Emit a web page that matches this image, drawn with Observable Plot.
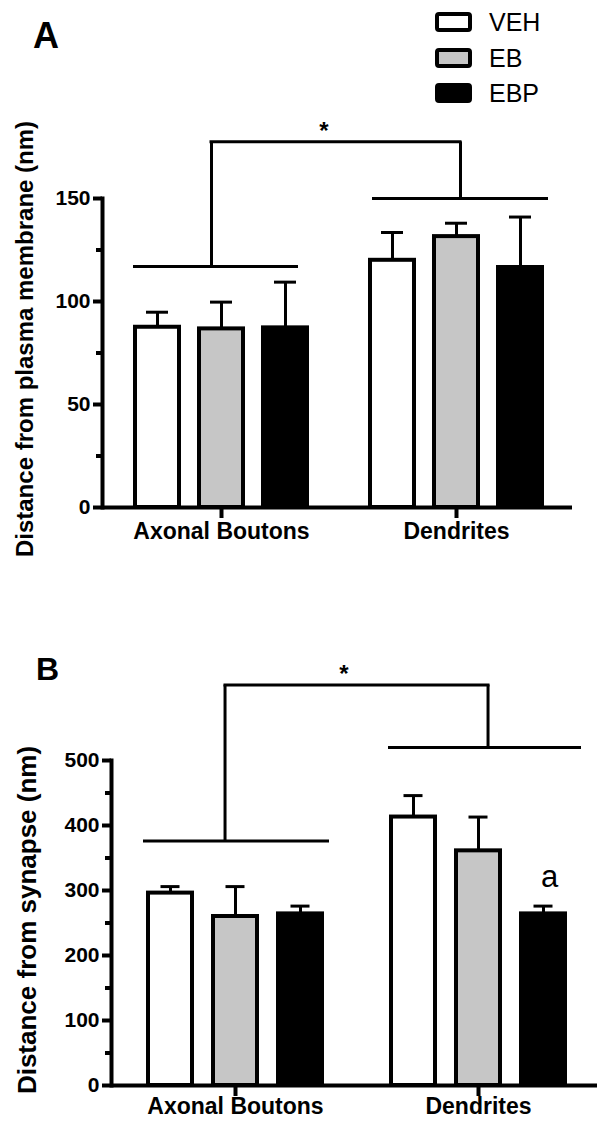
<!DOCTYPE html>
<html><head><meta charset="utf-8">
<script src="https://cdn.jsdelivr.net/npm/d3@7"></script>
<script src="https://cdn.jsdelivr.net/npm/@observablehq/plot@0.6"></script>
<style>
body{margin:0;background:#fff;}
#fig{position:relative;width:603px;height:1122px;font-family:"Liberation Sans",Arial,sans-serif;color:#000;overflow:hidden;background:#fff}
.abs{position:absolute}
.panel-letter{position:absolute;font-weight:bold;line-height:1}
.leg-row{position:absolute;height:20px;display:flex;align-items:center}
.leg-box{width:37px;height:20px;box-sizing:border-box;border:4px solid #000;border-radius:4px}
.leg-text{margin-left:17px;font-size:25px;line-height:1}
</style></head><body><div id="fig"></div>
<script>
// ---------- data ----------
const treatments = ["VEH", "EB", "EBP"];
const groups = ["Axonal Boutons", "Dendrites"];
const fills = ["#ffffff", "#c6c6c6", "#000000"];

// Panel A: distance from plasma membrane (nm)
const aMeanAxonal = [87.5, 86.7, 87.2];
const aSemAxonal = [7.3, 13.0, 22.2];
const aMeanDendrites = [120, 131.5, 116.5];
const aSemDendrites = [13.5, 6.5, 24.5];
const aTicks = [0, 50, 100, 150];
const aMinorTicks = [25, 75, 125];
const aSigLines = [117, 150];
const aSigTop = 177.5;
const aLabel = "Distance from plasma membrane (nm)";

// Panel B: distance from synapse (nm)
const bMeanAxonal = [296, 260, 264];
const bSemAxonal = [10, 46, 12];
const bMeanDendrites = [413, 361, 264];
const bSemDendrites = [33, 52, 12];
const bTicks = [0, 100, 200, 300, 400, 500];
const bMinorTicks = [50, 150, 250, 350, 450];
const bSigLines = [376, 520];
const bSigTop = 616;
const bLabel = "Distance from synapse (nm)";
const bLetters = [{group: "Dendrites", treatment: "EBP", value: 305, text: "a"}];

// ---------- layout (styles only) ----------
const layoutA = {top: 0, height: 560, mTop: 198, mBottom: 53, left: 102, F: 235,
  pi: 0.3125, po: 0.492, align: 0.524, capInset: 11, labelOffset: 87, labelSize: 24, labelDy: -14, catDy: 15,
  lineInsets: [[31, 39], [35, 24]], legOffsets: [109, 123], starDx: -9};
const layoutB = {top: 570, height: 552, mTop: 190, mBottom: 37, left: 111, F: 243,
  pi: 0.318, po: 0.5, align: 0.545, capInset: 12.5, labelOffset: 94, labelSize: 26, labelDy: -3, catDy: 12,
  lineInsets: [[32, 25], [34, 16]], legOffsets: [114, 134], starDx: -6};

function panel(d, L) {
  const table = groups.flatMap((g, gi) => treatments.map((t, ti) => ({
    group: g, treatment: t, mean: d.means[gi][ti], sem: d.sems[gi][ti]})));
  const sig = groups.map((g, i) => ({group: g, line: d.sigLines[i], top: d.sigTop}));
  const F = L.F;
  // centre of the middle band inside a facet (pixel offset from the facet's left edge)
  const step = F / (3 - L.pi + 2 * L.po);
  const start = (F - step * (3 - L.pi)) * L.align;
  const midCenter = start + step + step * (1 - L.pi) / 2;
  const sigMarks = [];
  sig.forEach((s, i) => {
    sigMarks.push(Plot.ruleY([s], {fx: "group", y: "line", strokeWidth: 3,
      insetLeft: L.lineInsets[i][0], insetRight: L.lineInsets[i][1]}));
    sigMarks.push(Plot.ruleX([s], {fx: "group", x: () => treatments[1], y1: "line", y2: "top", strokeWidth: 3,
      dx: L.legOffsets[i] - midCenter}));
    sigMarks.push(Plot.ruleY([s], {fx: "group", y: "top", strokeWidth: 3,
      insetLeft: i === 0 ? L.legOffsets[i] - 1.5 : 0,
      insetRight: i === 0 ? 0 : F - L.legOffsets[i] - 1.5}));
  });
  sigMarks.push(Plot.text([sig[0]], {fx: "group", y: "top", text: () => "*",
    frameAnchor: "right", dx: L.starDx, dy: -3, lineAnchor: "bottom",
    fontSize: 24, fontWeight: "bold"}));

  const marks = [
    Plot.barY(table, {fx: "group", x: "treatment", y: "mean", fill: "treatment",
      stroke: "#000", strokeWidth: 4}),
    Plot.ruleX(table, {fx: "group", x: "treatment", y1: "mean", y2: r => r.mean + r.sem, strokeWidth: 3}),
    Plot.tickY(table, {fx: "group", x: "treatment", y: r => r.mean + r.sem, strokeWidth: 3,
      insetLeft: L.capInset, insetRight: L.capInset}),
    Plot.ruleY([0], {strokeWidth: 4}),
    Plot.frame({anchor: "left", facetAnchor: "left", strokeWidth: 4}),
    Plot.axisY({ticks: d.ticks, tickSize: 9, tickPadding: 3, strokeWidth: 4,
      fontSize: 21, fontWeight: "bold", label: null}),
    Plot.axisY({ticks: d.minor, tickSize: 6, strokeWidth: 4, tickFormat: () => "", label: null}),
    Plot.text([d.label], {frameAnchor: "left", facetAnchor: "left", rotate: -90,
      dx: -L.labelOffset, dy: L.labelDy, lineAnchor: "top", textAnchor: "middle",
      fontSize: L.labelSize, fontWeight: "bold"}),
    Plot.axisX({ticks: [treatments[1]], tickSize: 11, strokeWidth: 4, tickFormat: () => "", label: null}),
    Plot.text(groups, {fx: g => g, x: () => treatments[1], text: g => g, frameAnchor: "bottom",
      lineAnchor: "top", dy: L.catDy, fontSize: 23, fontWeight: "bold"}),
    ...sigMarks
  ];
  if (d.letters) {
    marks.push(Plot.text(d.letters, {fx: "group", x: "treatment", y: "value", text: "text",
      lineAnchor: "bottom", dx: 6, fontSize: 31}));
  }
  return Plot.plot({
    width: 603, height: L.height,
    marginLeft: L.left, marginRight: 603 - L.left - 2 * F,
    marginTop: L.mTop, marginBottom: L.mBottom,
    style: {fontFamily: '"Liberation Sans", Arial, sans-serif', color: "#000", background: "transparent", overflow: "visible"},
    fx: {domain: groups, padding: 0, axis: null},
    x: {type: "band", domain: treatments, paddingInner: L.pi, paddingOuter: L.po, align: L.align},
    y: {domain: [0, d.ticks[d.ticks.length - 1]]},
    color: {domain: treatments, range: fills},
    marks
  });
}

const fig = document.getElementById("fig");
function place(el, L) {
  const w = document.createElement("div");
  w.className = "abs"; w.style.left = "0px"; w.style.top = L.top + "px";
  w.appendChild(el); fig.appendChild(w);
}
place(panel({means: [aMeanAxonal, aMeanDendrites], sems: [aSemAxonal, aSemDendrites],
  ticks: aTicks, minor: aMinorTicks, sigLines: aSigLines, sigTop: aSigTop, label: aLabel}, layoutA), layoutA);
place(panel({means: [bMeanAxonal, bMeanDendrites], sems: [bSemAxonal, bSemDendrites],
  ticks: bTicks, minor: bMinorTicks, sigLines: bSigLines, sigTop: bSigTop, label: bLabel,
  letters: bLetters}, layoutB), layoutB);

// panel letters
[["A", 33, 18, 36], ["B", 36, 653, 32]].forEach(([t, x, y, s]) => {
  const e = document.createElement("div");
  e.className = "panel-letter"; e.textContent = t;
  e.style.left = x + "px"; e.style.top = y + "px"; e.style.fontSize = s + "px";
  fig.appendChild(e);
});

// legend
const legendTops = [12, 48, 83];
treatments.forEach((t, i) => {
  const row = document.createElement("div");
  row.className = "leg-row"; row.style.left = "435px"; row.style.top = legendTops[i] + "px";
  const box = document.createElement("div"); box.className = "leg-box"; box.style.background = fills[i];
  const txt = document.createElement("span"); txt.className = "leg-text"; txt.textContent = t;
  row.appendChild(box); row.appendChild(txt); fig.appendChild(row);
});
</script></body></html>
